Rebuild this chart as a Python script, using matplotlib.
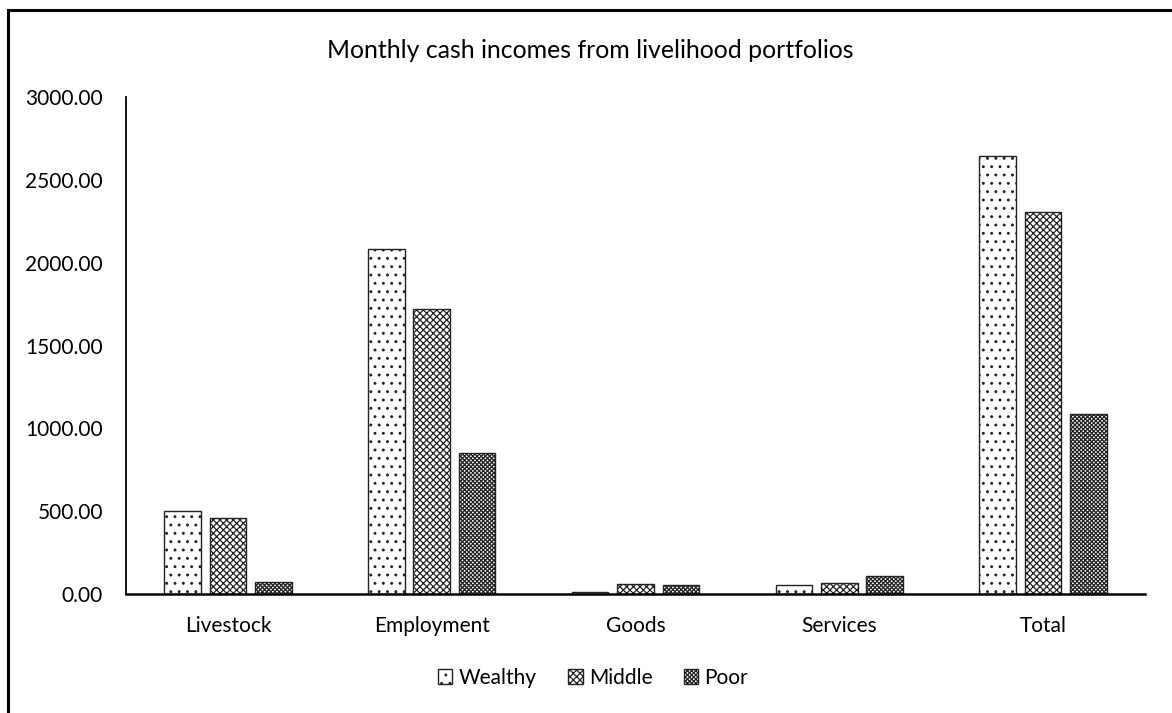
import numpy as np
import matplotlib.pyplot as plt
from matplotlib.lines import Line2D

plt.rcParams['font.family'] = ['Lato', 'DejaVu Sans']
plt.rcParams['hatch.linewidth'] = 0.9

categories = ['Livestock', 'Employment', 'Goods', 'Services', 'Total']
wealthy = [500, 2080, 15, 55, 2645]
middle = [459, 1720, 60, 65, 2304]
poor = [72, 851, 55, 110, 1088]
yticks = [0, 500, 1000, 1500, 2000, 2500, 3000]

W, H = 1172, 713
fig = plt.figure(figsize=(W/100, H/100), dpi=100)
ax = fig.add_axes([126/W, 1-594/H, (1145-126)/W, (594-97)/H])

x = np.arange(len(categories))
step = 0.223
bw = 0.18
series = [('Wealthy', wealthy, '..'), ('Middle', middle, 'xxxxx'), ('Poor', poor, 'xxxxxxxx')]
for i, (name, vals, hat) in enumerate(series):
    ax.bar(x + (i-1)*step, vals, bw, color='white', edgecolor='#222222',
           hatch=hat, linewidth=1.0, label=name)

ax.set_xlim(-0.5, 4.5)
ax.set_ylim(0, 3000)
ax.set_yticks(yticks)
ax.set_yticklabels(['%.2f' % v for v in yticks], fontsize=15)
ax.set_xticks(x)
ax.set_xticklabels(categories, fontsize=15)
ax.tick_params(axis='both', length=0, colors='#000000')
ax.tick_params(axis='y', pad=16.5)
ax.tick_params(axis='x', pad=16)
for s in ['top', 'right']:
    ax.spines[s].set_visible(False)
ax.spines['left'].set_linewidth(1.3)
ax.spines['bottom'].set_linewidth(1.8)

fig.text(590/W, 1-50/H, 'Monthly cash incomes from livelihood portfolios',
         ha='center', va='center', fontsize=17.9)

leg = fig.legend(loc='center', bbox_to_anchor=(593/W, 1-678/H), ncol=3,
                 frameon=False, fontsize=15, handlelength=0.7, handleheight=0.7,
                 handletextpad=0.3, columnspacing=1.5)

# left and top frame lines
fig.add_artist(Line2D([8/W, 8/W], [0, 1-10/H], color='black', lw=2.2))
fig.add_artist(Line2D([8/W, 1], [1-10/H, 1-10/H], color='black', lw=2.2))

fig.savefig('out.png', dpi=100, facecolor='white')
